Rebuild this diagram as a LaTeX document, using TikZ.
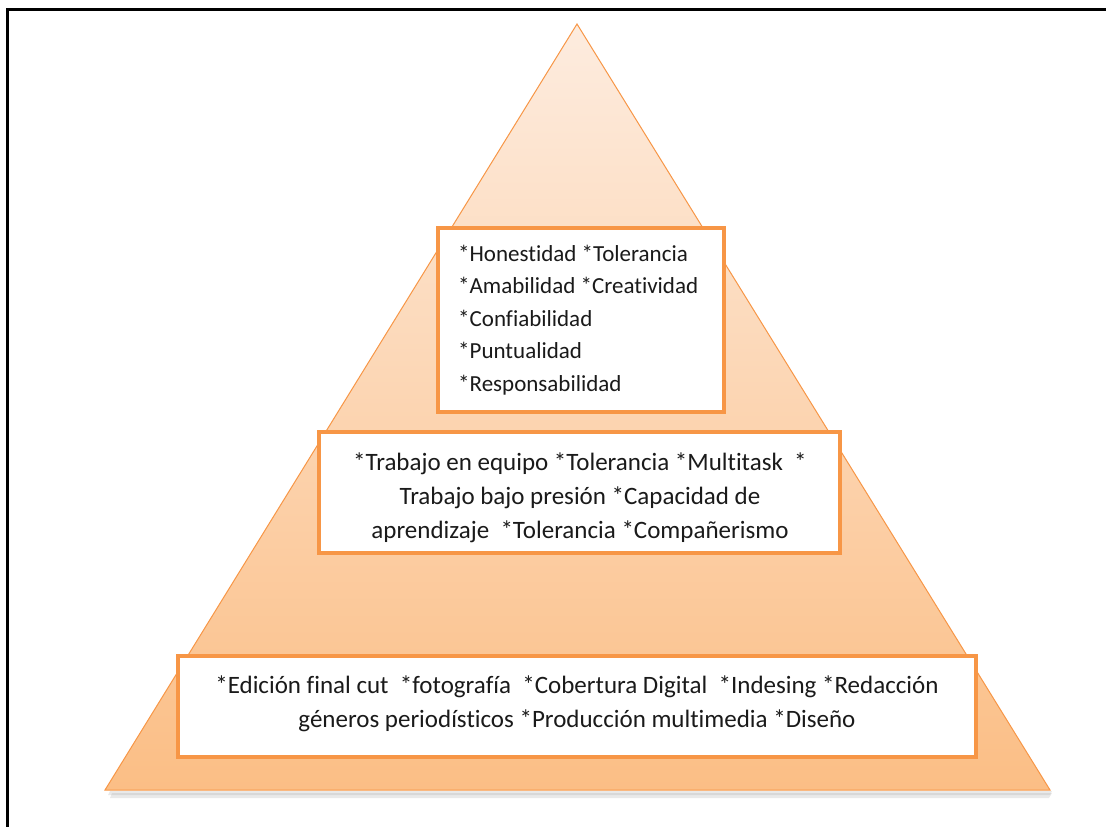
\documentclass[tikz,border=0pt]{standalone}
\usepackage{fontspec}
\setmainfont{Carlito}[Ligatures=NoCommon]
\definecolor{orangeline}{HTML}{F79646}
\definecolor{toptri}{HTML}{FDECDF}
\definecolor{bottri}{HTML}{FBBE85}
\definecolor{txt}{HTML}{1A1A1A}
\begin{document}
\begin{tikzpicture}[x=1pt,y=-1pt,
  levelbox/.style={draw=orangeline, line width=4.5pt, fill=white, rectangle, inner sep=0pt, text=txt},
  lvtexta/.style={font=\fontsize{23}{32.5}\selectfont, inner sep=0pt},
  lvtextb/.style={font=\fontsize{25}{34}\selectfont, inner sep=0pt}]
\useasboundingbox (0,0) rectangle (1106,827);
% frame
\draw[line width=3pt, black] (7.5,827) -- (7.5,9) -- (1106,9);
% pyramid
\coordinate (apex) at (577,24);
\coordinate (bl) at (105,790);
\coordinate (br) at (1050,790);
\fill[black!35, opacity=0.25] (112,793) -- (1052,793) -- (1049,798) -- (110,798) -- cycle;
\fill[black!35, opacity=0.25] (110,791) -- (1052,791) -- (1050,795) -- (108,795) -- cycle;
\shade[top color=toptri, bottom color=bottri, draw=orangeline, line width=1pt] (apex) -- (br) -- (bl) -- cycle;
% boxes
\node[levelbox, minimum width=286, minimum height=184] (b1) at (581,320) {};
\node[lvtexta, text=txt, align=left, anchor=base west] (t1) at (458,391)
  {*Honestidad *Tolerancia\\ *Amabilidad *Creatividad\\ *Confiabilidad\\ *Puntualidad\\ *Responsabilidad};
\node[levelbox, minimum width=521, minimum height=121] (b2) at (579.5,492.5) {};
\node[lvtextb, text=txt, align=center, anchor=base] (t2) at (580,538)
  {*Trabajo en equipo *Tolerancia *Multitask\ \ *\\ Trabajo bajo presión *Capacidad de\\ aprendizaje\ \ *Tolerancia *Compañerismo};
\node[levelbox, minimum width=798, minimum height=101] (b3) at (577,706.5) {};
\node[lvtextb, text=txt, align=center, anchor=base] (t3) at (577,727)
  {*Edición final cut\ \ *fotografía\ \ *Cobertura Digital\ \ *Indesing *Redacción\\ géneros periodísticos *Producción multimedia *Diseño};
\end{tikzpicture}
\end{document}
